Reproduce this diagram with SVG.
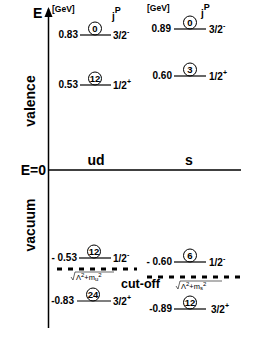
<svg xmlns="http://www.w3.org/2000/svg" width="273" height="353" viewBox="0 0 273 353">
<defs>
<style>
text{font-family:"Liberation Sans",Arial,sans-serif;fill:#000}
.b{font-weight:bold}
.num{font-size:10px;font-weight:bold}
.lab{font-size:14px;font-weight:bold}
.cn{font-size:9.5px;font-weight:bold;text-anchor:middle}
.lvl{stroke:#000;stroke-width:1.2;fill:none}
.cir{stroke:#000;stroke-width:1;fill:none}
.dash{stroke:#000;stroke-width:3;stroke-dasharray:5 6;fill:none}
.sm{font-size:7.5px}
</style>
</defs>
<rect width="273" height="353" fill="#fff"/>
<g id="axes">
<line x1="48.5" y1="328" x2="48.5" y2="9" stroke="#000" stroke-width="1.5"/>
<path d="M44.5,17 L48.5,7 L52.5,17 Z" fill="#000"/>
<line x1="48" y1="170" x2="241" y2="170" stroke="#000" stroke-width="1.5"/>
<text x="33" y="18" class="lab" font-size="15">E</text>
<text x="52" y="12" class="b" font-size="8.5">[GeV]</text>
<text x="147" y="11" class="b" font-size="8.5">[GeV]</text>
<text x="112" y="20" class="b" font-size="10">j<tspan dy="-7" font-size="9">P</tspan></text>
<text x="201" y="17" class="b" font-size="10">j<tspan dy="-7" font-size="9">P</tspan></text>
<text x="46" y="175" class="lab" text-anchor="end">E=0</text>
<text x="96" y="165" class="lab" text-anchor="middle">ud</text>
<text x="189" y="165" class="lab" text-anchor="middle">s</text>
<text transform="translate(35,101) rotate(-90)" class="lab" text-anchor="middle">valence</text>
<text transform="translate(35,225) rotate(-90)" class="lab" text-anchor="middle">vacuum</text>
</g>
<g id="ud-083">
<line class="lvl" x1="80" y1="35" x2="111" y2="35"/>
<text x="78" y="38" class="num" text-anchor="end">0.83</text>
<circle class="cir" cx="95" cy="28.5" r="6.5"/>
<text x="95" y="32" class="cn">0</text>
<text x="113" y="39" class="num">3/2<tspan dy="-5" font-size="7">-</tspan></text>
</g>
<g id="ud-053">
<line class="lvl" x1="80" y1="85" x2="111" y2="85"/>
<text x="78" y="88" class="num" text-anchor="end">0.53</text>
<circle class="cir" cx="95" cy="78.5" r="6.5"/>
<text x="95" y="82" class="cn">12</text>
<text x="113" y="89" class="num">1/2<tspan dy="-5" font-size="7">+</tspan></text>
</g>
<g id="s-089">
<line class="lvl" x1="174" y1="29" x2="206" y2="29"/>
<text x="171" y="32" class="num" text-anchor="end">0.89</text>
<circle class="cir" cx="190" cy="22.5" r="6.5"/>
<text x="190" y="26" class="cn">0</text>
<text x="209" y="33" class="num">3/2<tspan dy="-5" font-size="7">-</tspan></text>
</g>
<g id="s-060">
<line class="lvl" x1="174" y1="76" x2="206" y2="76"/>
<text x="172" y="79" class="num" text-anchor="end">0.60</text>
<circle class="cir" cx="190" cy="69.5" r="6.5"/>
<text x="190" y="73" class="cn">3</text>
<text x="209" y="80" class="num">1/2<tspan dy="-5" font-size="7">+</tspan></text>
</g>
<g id="ud-m053">
<line class="lvl" x1="79" y1="258" x2="111" y2="258"/>
<text x="77" y="261" class="num" text-anchor="end">- 0.53</text>
<circle class="cir" cx="94" cy="251.5" r="6.5"/>
<text x="94" y="255" class="cn">12</text>
<text x="113" y="262" class="num">1/2<tspan dy="-5" font-size="7">-</tspan></text>
</g>
<g id="ud-m083">
<line class="lvl" x1="77" y1="301" x2="111" y2="301"/>
<text x="74" y="304" class="num" text-anchor="end">-0.83</text>
<circle class="cir" cx="93" cy="294.5" r="6.5"/>
<text x="93" y="298" class="cn">24</text>
<text x="113" y="305" class="num">3/2<tspan dy="-5" font-size="7">+</tspan></text>
</g>
<g id="s-m060">
<line class="lvl" x1="174" y1="262" x2="206" y2="262"/>
<text x="172" y="265" class="num" text-anchor="end">- 0.60</text>
<circle class="cir" cx="190" cy="255.5" r="6.5"/>
<text x="190" y="259" class="cn">6</text>
<text x="209" y="266" class="num">1/2<tspan dy="-5" font-size="7">-</tspan></text>
</g>
<g id="s-m089">
<line class="lvl" x1="174" y1="309" x2="206" y2="309"/>
<text x="172" y="312" class="num" text-anchor="end">-0.89</text>
<circle class="cir" cx="190" cy="302.5" r="6.5"/>
<text x="190" y="306" class="cn">12</text>
<text x="211" y="313" class="num">3/2<tspan dy="-5" font-size="7">+</tspan></text>
</g>
<g id="cutoff">
<line class="dash" x1="57" y1="269" x2="137" y2="269"/>
<line class="dash" x1="147" y1="277" x2="242" y2="277"/>
<path d="M71,277 L73,280 L75,272 L114,272" stroke="#000" stroke-width="0.6" fill="none"/>
<text x="76" y="279.5" class="sm">Λ<tspan dy="-3" font-size="6">2</tspan><tspan dy="3">+m</tspan><tspan dy="1.5" font-size="6">u</tspan><tspan dy="-4.5" font-size="6">2</tspan></text>
<path d="M176,286 L178,289 L180,281 L222,281" stroke="#000" stroke-width="0.6" fill="none"/>
<text x="181" y="288.5" class="sm">Λ<tspan dy="-3" font-size="6">2</tspan><tspan dy="3">+m</tspan><tspan dy="1.5" font-size="6">s</tspan><tspan dy="-4.5" font-size="6">2</tspan></text>
<text x="121" y="288" class="b" font-size="12.5">cut-off</text>
</g>
</svg>
